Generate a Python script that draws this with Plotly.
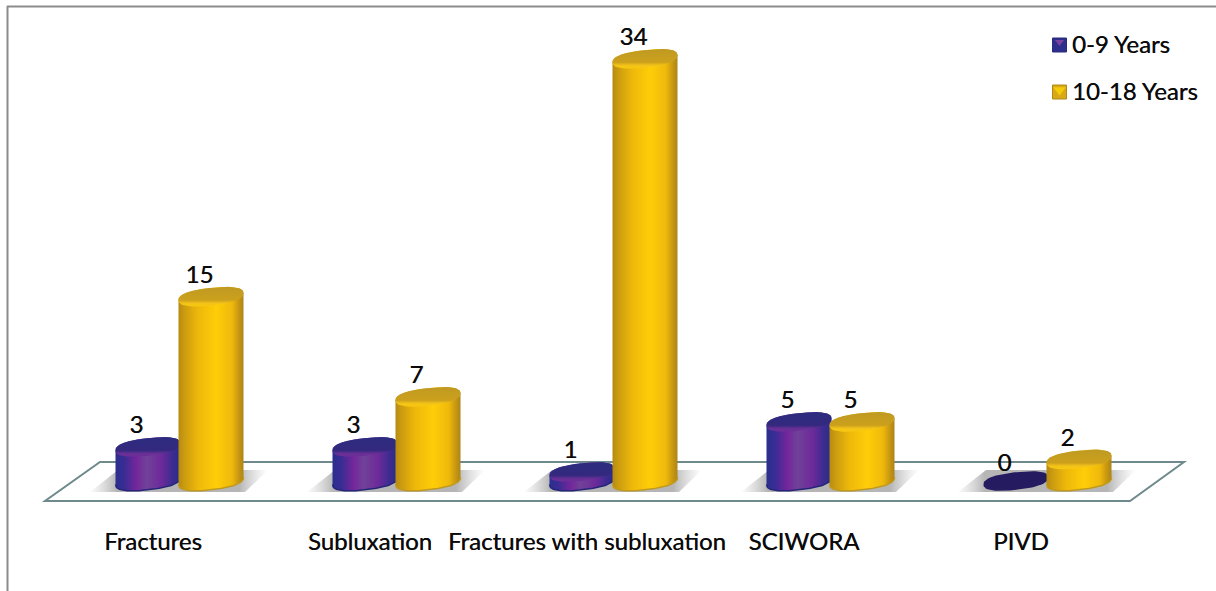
import numpy as np
import plotly.graph_objects as go

categories = ["Fractures", "Subluxation", "Fractures with subluxation", "SCIWORA", "PIVD"]
years_0_9 = [3, 3, 1, 5, 0]
years_10_18 = [15, 7, 34, 5, 2]
series_names = ["0-9 Years", "10-18 Years"]

W, H = 1216, 591
PX_X0, PX_XU = 179.5, 217.0     # pixel of group 0, pixels per category
PX_Y0, PX_YU = 484.5, 12.52     # pixel of value 0, pixels per unit
BOTTOM = 525
def dx(p): return (p - PX_X0) / PX_XU
def dy(p): return (PX_Y0 - p) / PX_YU
def lx(p): return p / PX_XU     # pixel length to data
def ly(p): return p / PX_YU

FONT = "Lato"
TXT = "#0a0a0a"
THICK = "0.4px 0 0.3px rgba(0,0,0,.75)"
HALF = lx(32.5)
OFFSET = lx(31.5)
FOOT = ly(3.5)
YEL_BODY = [[0, "#b58a12"], [.08, "#c99a10"], [.3, "#eeb80a"], [.58, "#ffcd08"], [.82, "#efb90c"], [.95, "#bf9012"], [1, "#ac8518"]]
PUR_BODY = [[0, "#2a2f8e"], [.14, "#3a2c94"], [.32, "#74269b"], [.48, "#704298"], [.7, "#6e2a9a"], [.88, "#3b2c90"], [1, "#292d86"]]
YEL_TOP = [[0, "#bf9a22"], [.68, "#cca01c"], [.84, "#f2c21a"], [1, "#f8c810"]]
PUR_TOP = [[0, "#2d2c7e"], [.68, "#33297f"], [.86, "#6a3096"], [1, "#6c2c98"]]


def ellipse(cx, v, start, stop, n=64):
    t = np.linspace(start, stop, n)
    c, s = np.cos(t), np.sin(t)
    c2 = np.sign(c) * np.abs(c) ** 0.82
    s2 = np.sign(s) * np.abs(s) ** 0.82
    x = cx + HALF * c2
    y = v + ly(3.5) * c2 - ly(8.8) * s2
    return x, y


fig = go.Figure()

# real bars, carrying the values, hidden under the shaded cylinders
for name, vals, col, off in [(series_names[0], years_0_9, "#3a2c8e", -OFFSET),
                             (series_names[1], years_10_18, "#e8b40c", OFFSET)]:
    fig.add_trace(go.Bar(x=np.arange(len(categories)) + off, y=vals, width=2 * HALF * 0.6, name=name,
                         marker=dict(color=col, line=dict(width=0)), showlegend=False, hoverinfo="skip"))

# shadows on the floor
SH = [[0, "rgba(185,185,185,0)"], [.16, "rgba(150,150,150,.7)"], [.84, "rgba(150,150,150,.7)"], [1, "rgba(185,185,185,0)"]]
for i in range(len(categories)):
    xs = [i + dx(90), i + dx(118), i + dx(268), i + dx(245), i + dx(90)]
    ys = [dy(492), dy(470), dy(470), dy(492), dy(492)]
    fig.add_trace(go.Scatter(x=xs, y=ys, mode="lines", line=dict(width=0), fill="toself", showlegend=False,
                             fillgradient=dict(type="horizontal", colorscale=SH, start=i + dx(88), stop=i + dx(268)),
                             hoverinfo="skip"))

# cylinders: 0-9 first in each group so that 10-18 overlaps it
for i in range(len(categories)):
    for vals, off, body, top, rim in [(years_0_9, -OFFSET, PUR_BODY, PUR_TOP, "#25267a"),
                                      (years_10_18, OFFSET, YEL_BODY, YEL_TOP, "#c09a20")]:
        v, cx = vals[i], i + off
        if v == 0:
            ex, ey = ellipse(cx, FOOT, 0, 2 * np.pi)
            fig.add_trace(go.Scatter(x=ex, y=ey, mode="lines", line=dict(width=0), fill="toself",
                                     fillcolor="#241b60", showlegend=False, hoverinfo="skip"))
            continue
        bx, by = ellipse(cx, FOOT, np.pi, 0)              # lower arc of the foot, left to right
        tx, ty = ellipse(cx, v, 2 * np.pi, np.pi)         # upper arc of the head, right to left
        px, py = np.r_[bx, tx, bx[0]], np.r_[by, ty, by[0]]
        fig.add_trace(go.Scatter(x=px, y=py, mode="lines", line=dict(width=0), fill="toself", showlegend=False,
                                 fillgradient=dict(type="horizontal", colorscale=body, start=cx - HALF, stop=cx + HALF),
                                 hoverinfo="skip"))
        fig.add_trace(go.Scatter(x=bx, y=by, mode="lines", line=dict(width=1.5, color=rim), showlegend=False, hoverinfo="skip"))
        ex, ey = ellipse(cx, v, 0, 2 * np.pi)
        fig.add_trace(go.Scatter(x=ex, y=ey, mode="lines", line=dict(width=0), fill="toself", showlegend=False,
                                 fillgradient=dict(type="vertical", colorscale=top, start=v + ly(9.5), stop=v - ly(9.5)),
                                 hoverinfo="skip"))

# value labels
for vals, off in [(years_0_9, -OFFSET), (years_10_18, OFFSET)]:
    fig.add_trace(go.Scatter(x=np.arange(len(categories)) + off - lx(11.5), y=np.array(vals) + ly(19.5),
                             mode="text", text=[str(v) for v in vals], textposition="middle center",
                             textfont=dict(family=FONT, size=24, color=TXT, shadow=THICK), showlegend=False, hoverinfo="skip"))

# legend key
fig.add_trace(go.Scatter(
    x=[dx(1059.5), dx(1059.5)], y=[dy(45), dy(92)], mode="markers",
    marker=dict(symbol="square", size=14, color=["#2d2e8c", "#d9a818"], line=dict(width=1, color=["#2a2a80", "#b08a18"])),
    showlegend=False, hoverinfo="skip"))
fig.add_trace(go.Scatter(
    x=[dx(1059.5), dx(1059.5)], y=[dy(42), dy(90)], mode="markers",
    marker=dict(symbol="triangle-down", size=[8, 11], color=["#9a4aa8", "#ffdc00"], line=dict(width=0)),
    showlegend=False, hoverinfo="skip"))
fig.add_trace(go.Scatter(
    x=[dx(1072), dx(1072)], y=[dy(47), dy(94)], mode="text", text=series_names, textposition="middle right",
    textfont=dict(family=FONT, size=24, color=TXT, shadow=THICK), showlegend=False, hoverinfo="skip"))

floor = "M {} {} L {} {} L {} {} L {} {} Z".format(dx(45), dy(501), dx(1130), dy(501), dx(1184), dy(462), dx(100), dy(462))
fig.update_layout(
    width=W, height=H, autosize=False,
    margin=dict(l=0, r=0, t=0, b=H - BOTTOM, pad=0),
    paper_bgcolor="white", plot_bgcolor="white",
    showlegend=False,
    barmode="overlay",
    xaxis=dict(range=[dx(0), dx(W)], tickmode="array", tickvals=[i + dx(153) for i in range(len(categories))],
               ticktext=categories, showgrid=False, zeroline=False, showline=False, ticks="",
               tickfont=dict(family=FONT, size=24, color=TXT, shadow=THICK), ticklabelstandoff=0),
    yaxis=dict(range=[dy(BOTTOM), dy(0)], visible=False, showgrid=False, zeroline=False),
    shapes=[
        dict(type="path", path=floor, xref="x", yref="y", layer="below",
             line=dict(color="#6f8a8c", width=2), fillcolor="white"),
        dict(type="line", xref="paper", yref="paper", x0=7.5 / W, x1=7.5 / W, y0=1 - 6 / BOTTOM, y1=-(H - BOTTOM) / BOTTOM,
             line=dict(color="#8c8c8c", width=2)),
        dict(type="line", xref="paper", yref="paper", x0=7 / W, x1=1, y0=1 - 6.5 / BOTTOM, y1=1 - 6.5 / BOTTOM,
             line=dict(color="#8c8c8c", width=2)),
    ],
)
fig.write_html("out.html", config=dict(displayModeBar=False),
               post_script="document.body.style.margin='0';")
